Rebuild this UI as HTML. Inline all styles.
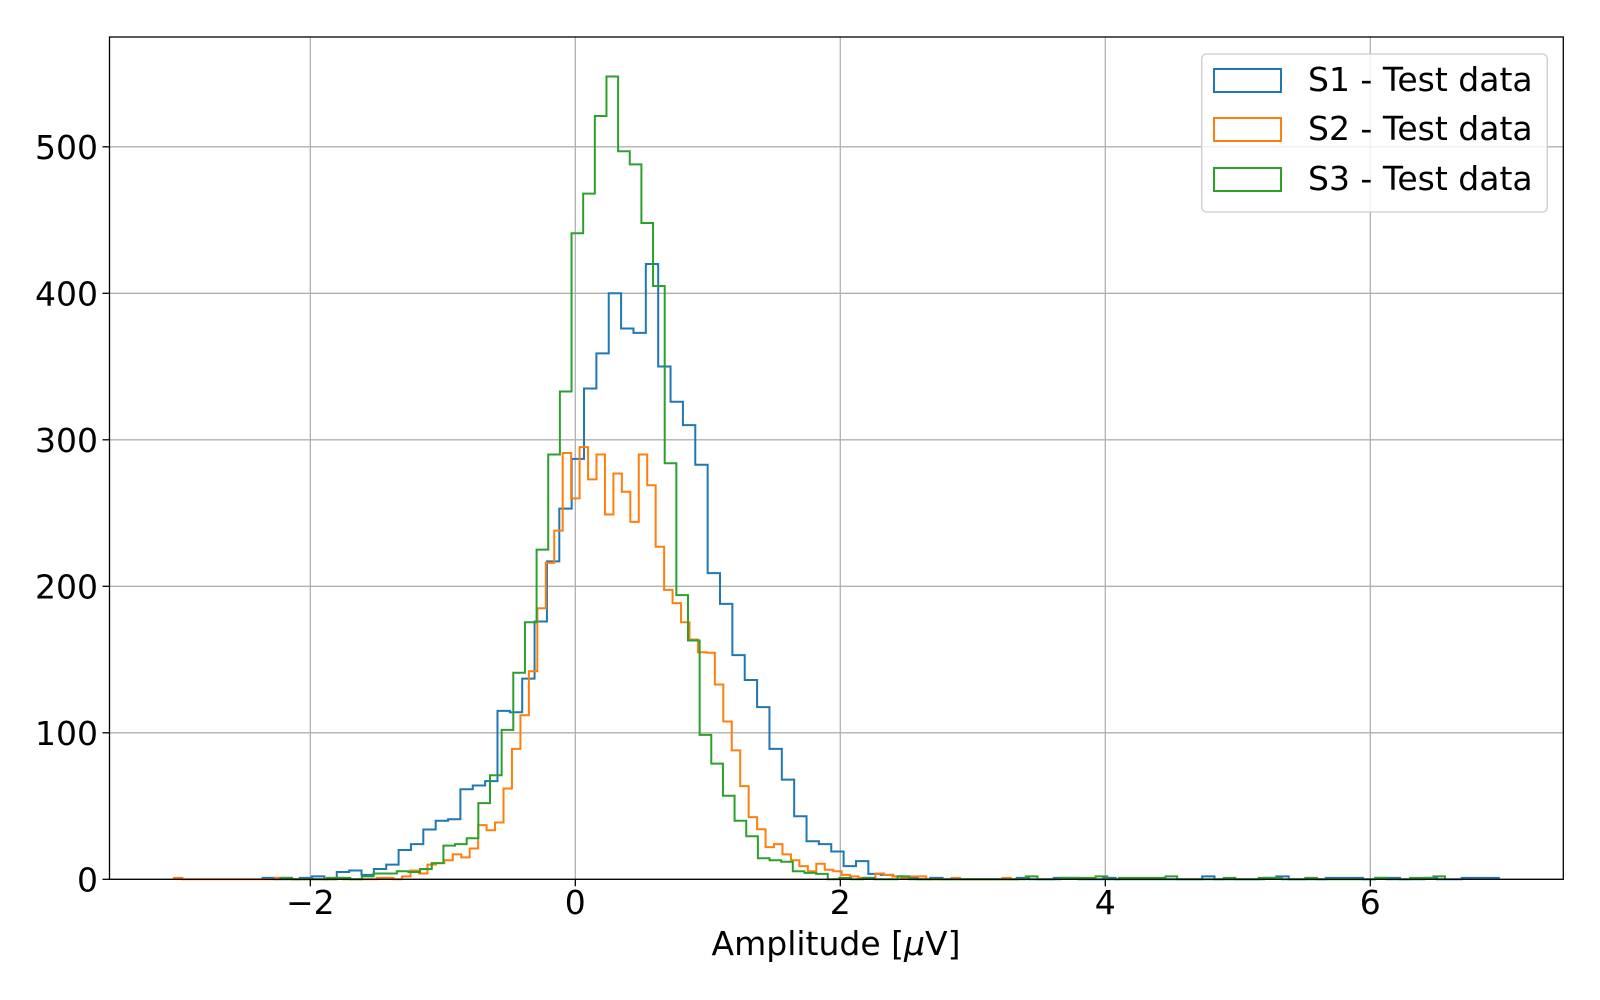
<!DOCTYPE html>
<html><head><meta charset="utf-8"><style>
html,body{margin:0;padding:0;background:#fff;}
svg{display:block;font-family:"DejaVu Sans","Liberation Sans",sans-serif;}
</style></head><body>
<svg id="chart" width="1600" height="1000" viewBox="0 0 1600 1000" xmlns="http://www.w3.org/2000/svg">
<g id="grid"></g>
<g id="series"></g>
<rect x="109.5" y="37" width="1453.8" height="842.3" fill="none" stroke="#000" stroke-width="1.3"/>
<g id="ticks"></g>
<text x="836" y="955" font-size="33" text-anchor="middle">Amplitude [<tspan font-style="italic">μ</tspan>V]</text>
<g>
<rect x="1201.7" y="54" width="345.6" height="158" rx="5" fill="#fff" fill-opacity="0.8" stroke="#ccc" stroke-width="1.3"/>
<g><rect x="1214" y="69" width="67" height="23" fill="none" stroke="#1f77b4" stroke-width="2"/><text x="1308" y="91" font-size="33">S1 - Test data</text></g>
<g><rect x="1214" y="118" width="67" height="23" fill="none" stroke="#ff7f0e" stroke-width="2"/><text x="1308" y="140" font-size="33">S2 - Test data</text></g>
<g><rect x="1214" y="168" width="67" height="23" fill="none" stroke="#2ca02c" stroke-width="2"/><text x="1308" y="190" font-size="33">S3 - Test data</text></g>
</g>
</svg>
<script>
const xTicks = [-2, 0, 2, 4, 6];
const xTickLabels = ["−2", "0", "2", "4", "6"];
const yTicks = [0, 100, 200, 300, 400, 500];
const yTickLabels = ["0", "100", "200", "300", "400", "500"];
const s1Start = -2.36, s1Width = 0.0933;
const s1Counts = [1,0,0,1,2,0,5,6,3,7,10,20,24,34,40,41,61.5,64,67,115,114,137,176,217,253,287,335,359,400,376,373,420,350,326,310,283,209,188,153,136,117.5,89,68,43,26,24,19,9,12.4,3.7,3,2,1,0,1,0,0,0,0,0,0,1,0,0,1,1,0,0,1,0,0,0,0,0,0,0,2,0,0,0,0,1,2,0,0,0,1,1,1,0,1,1,0,0,1,0,0,1,1,1];
const s2Start = -3.03, s2Width = 0.0638;
const s2Counts = [1,0,0,0,0,0,0,0,0,0,0,0,1,1,0,0,0,0,0,1,0,0,0,0,1,1,0,2,6,4,10,11,13,17,15,21,37,33.5,38.8,62,89,112,142,185,216,238,291,260,295,273,290,249,277,264.5,244,290,269,227,197.6,188.5,175.5,163.7,155,154.6,133,107.7,88,63.6,42.4,34.2,22,24,17,13,9,5.5,10.6,6.5,5.5,3,2,1,1,4,3,2,1,2,2,0,0,0,1,0,0,0,0,0,1,0];
const s3Start = -2.226, s3Width = 0.0879;
const s3Counts = [1,0,0,0,1,1,0,2,4,4,5.5,5,7,11,23,24,28,52,71,102,141,175.5,225,290,333,441,468,521,548,497,488,448,405,284,194,163,98.6,79,57,40,29.4,14.4,13,12,5.5,4.4,3.7,0,1,0,1,0,0,2,0,0,0,0,0,0,0,0,0,0,2,0,0,1,1,1,2,0,1,1,1,1,2,0,0,0,0,1,0,0,1,1,0,0,1,0,0,0,0,0,1,0,0,1,1,2];

const X0 = 109.5, X1 = 1563.3, Y0 = 879.3, Y1 = 37;
const xScale = v => 575.3 + v * 132.5;
const yScale = v => 879.3 - v * 1.465;
const NS = "http://www.w3.org/2000/svg";
const grid = document.getElementById('grid');
const ticks = document.getElementById('ticks');
function mk(tag, attrs, parent){const e=document.createElementNS(NS,tag);for(const k in attrs)e.setAttribute(k,attrs[k]);parent.appendChild(e);return e;}

xTicks.forEach((t,i)=>{
  const x = xScale(t);
  const g = mk('line',{x1:x,x2:x,y1:Y1,y2:Y0,stroke:'#b0b0b0','stroke-width':1.3},grid);
  
  
  const tk = mk('line',{x1:x,x2:x,y1:Y0,y2:Y0+7,stroke:'#000','stroke-width':1.3},ticks);
  
  
  const tx = mk('text',{x:x,y:914,'font-size':33,'text-anchor':'middle'},ticks);
  tx.textContent = xTickLabels[i];
  
  
});
yTicks.forEach((t,i)=>{
  const y = yScale(t);
  const g = mk('line',{x1:X0,x2:X1,y1:y,y2:y,stroke:'#b0b0b0','stroke-width':1.3},grid);
  
  
  const tk = mk('line',{x1:X0-7,x2:X0,y1:y,y2:y,stroke:'#000','stroke-width':1.3},ticks);
  
  
  const tx = mk('text',{x:98,y:y+12,'font-size':33,'text-anchor':'end'},ticks);
  tx.textContent = yTickLabels[i];
  
  
});

function stepPath(start, width, counts){
  let d = 'M' + xScale(start) + ',' + yScale(0);
  counts.forEach((c,k)=>{
    const xa = xScale(start + k*width), xb = xScale(start + (k+1)*width);
    d += ' L' + xa + ',' + yScale(c) + ' L' + xb + ',' + yScale(c);
  });
  d += ' L' + xScale(start + counts.length*width) + ',' + yScale(0);
  return d;
}
const seriesG = document.getElementById('series');
const p1 = mk('path',{d:stepPath(s1Start,s1Width,s1Counts),fill:'none',stroke:'#1f77b4','stroke-width':2},seriesG);


const p2 = mk('path',{d:stepPath(s2Start,s2Width,s2Counts),fill:'none',stroke:'#ff7f0e','stroke-width':2},seriesG);


const p3 = mk('path',{d:stepPath(s3Start,s3Width,s3Counts),fill:'none',stroke:'#2ca02c','stroke-width':2},seriesG);


</script>
</body></html>
